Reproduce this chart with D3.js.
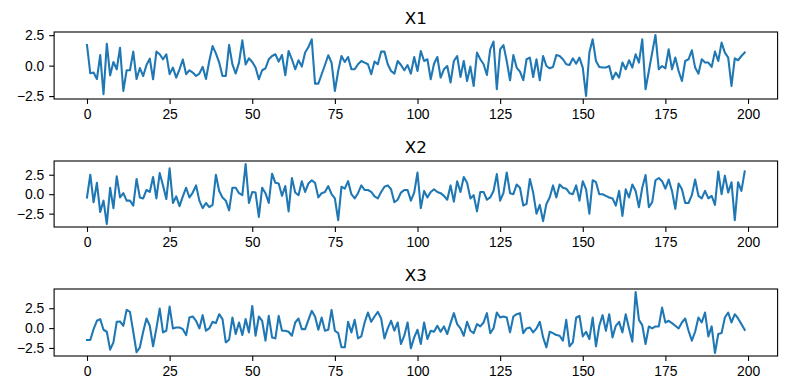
<!DOCTYPE html>
<html lang="en">
<head>
    <meta charset="UTF-8">
    <title>X1 / X2 / X3</title>
    <script src="https://d3js.org/d3.v7.min.js"></script>
    <style>
        body {
            margin: 0;
            background: #fff;
        }

        svg {
            display: block;
            font-family: 'DejaVu Sans', sans-serif;
        }

        .title {
            font-size: 16.7px;
            text-anchor: middle;
            fill: #000;
        }

        .tick text {
            font-size: 13.9px;
            fill: #000;
        }

        .tick line {
            stroke: #000;
            stroke-width: 1.1;
        }

        .frame {
            fill: none;
            stroke: #000;
            stroke-width: 1.1;
        }

        .series {
            fill: none;
            stroke: #1f77b4;
            stroke-width: 2.08;
            stroke-linejoin: round;
            stroke-linecap: square;
        }
    </style>
</head>
<body>
    <svg width="790" height="390"></svg>

    <script>
        const titles = ['X1', 'X2', 'X3'];
        const xTicks = [0, 25, 50, 75, 100, 125, 150, 175, 200];
        const yTicks = [-2.5, 0, 2.5];

        const x1 = [
            1.69, -0.63, -0.57, -1.1, 0.87, -2.35, 1.8, -0.8, 0.3, -0.3,
            1.47, -2.08, -0.38, -0.38, 1.15, -1.1, -0.2, -0.85, 0.05, 0.57,
            -1.12, 1.15, 0.93, 0.52, 0.93, -0.7, -0.16, -0.98, -0.3, 0.5,
            -0.7, -0.38, -0.57, -0.85, -0.65, -0.1, -1.1, 0.38, 1.6, 1.0,
            0.25, -0.85, -0.85, 1.7, 0.1, -0.65, 0.25, 2.08, 0.1, 0.6,
            0.3, -0.16, -1.12, -0.38, -0.22, 0.52, 0.79, 0.93, 0.33, 0.87,
            -0.79, 1.2, 0.52, -0.3, 0.44, -0.08, 1.07, 1.53, 2.16, -1.48,
            -1.48, -0.71, 0.05, 0.85, 0.25, -2.08, -0.44, 0.79, 0.3, 0.71,
            -0.3, -0.3, 0.11, 0.38, 0.25, 0.11, -0.71, 0.33, 0.11, 1.15,
            1.15, 0.11, -0.44, -0.66, 0.38, 0.05, -0.38, 0.05, -0.66, 0.71,
            -0.44, 1.2, 0.38, 0.52, -1.12, 0.16, 0.71, -0.98, -0.3, -0.03,
            -1.39, 0.38, 0.79, -0.93, 0.38, -1.26, -0.08, -1.67, 1.07, 0.52,
            0.11, -0.77, 1.34, 1.97, -1.94, 1.34, 1.69, 0.38, -1.2, 0.87,
            -0.16, -0.49, -1.2, 0.52, 0.66, -0.93, 0.52, -1.2, 0.79, -0.03,
            -0.22, -0.11, 0.87, 0.79, 0.52, 0.11, 0.05, 0.6, 0.16, 0.66,
            -0.16, -2.49, 1.07, 2.16, 0.38, -0.11, -0.16, -0.16, -0.03, -1.12,
            -0.57, -0.98, 0.25, -0.3, 0.44, -0.16, 0.93, 0.25, 2.16, -1.94,
            -0.44, 1.07, 2.51, -0.3, -0.03, -0.22, 1.34, -0.3, 0.66, -0.44,
            -1.26, 0.38, 0.52, 1.26, -0.16, -0.66, 0.52, 0.25, 0.25, -0.11,
            1.15, 0.38, 1.89, 1.07, 0.66, -1.67, 0.6, 0.44, 0.79, 1.07
        ];

        const x2 = [
            -0.42, 2.5, -1.04, 1.46, -2.29, -0.83, -3.83, 0.83, -1.79, 2.29,
            -0.42, 0.13, -0.83, -0.83, -1.46, 1.96, -0.42, -0.54, 0.54, 0.29,
            2.21, -0.54, 2.71, 1.13, -0.63, 3.33, -1.13, -0.29, -1.54, -0.29,
            0.83, -0.42, 0.21, 1.13, -0.83, -1.79, -1.13, -1.67, -1.38, 2.5,
            0.42, -0.42, -0.83, -2.08, 0.83, 0.83, 0.13, -0.13, 3.88, -1.13,
            0.29, 0.21, -2.92, 0.83, 0.13, -1.13, 2.63, 1.46, 1.38, -0.21,
            1.04, -2.21, 2.08, 0.21, -0.13, 1.67, 0.29, 1.38, 1.79, 1.46,
            -0.42, 0.13, 0.29, 1.04, 0, -0.54, -3.33, 0.96, 0.71, 1.67,
            0, -0.54, 0.13, 1.13, 0.54, 0.54, 0.29, -0.29, -0.54, 0.29,
            0.96, 1.13, 0.63, -1.04, -0.71, 0.21, 0.54, 0.54, -0.83, 0.21,
            2.79, -1.79, 0.42, -0.42, 0.29, 0.63, 0.29, 0.13, -0.21, -0.71,
            1.13, -0.96, 1.67, 0.29, 2.21, 1.46, -0.54, -0.13, -2.21, 0.29,
            0.29, -0.71, -0.42, 0.42, 2.58, -0.83, 0.13, 2.79, 0.13, 0,
            1.25, 0.83, -1.46, -1.25, 1.96, 0.21, -2.5, -1.38, -3.46, -1.25,
            -0.42, 1.13, -0.42, 1.25, 0.83, 0.71, 0.13, 0, 1.13, -0.83,
            1.67, 0.63, -2.5, 1.79, 1.54, 0, 0, -0.21, -0.42, -0.54,
            -1.46, 0.42, -2.79, 0.63, -0.42, 1.25, 0.42, -1.67, 0.83, 2.46,
            -1.67, -1.04, 1.79, 2.08, 1.67, 0.71, 1.88, 0.42, -1.88, 1.38,
            0.63, -1.13, -1.13, -0.13, 1.88, -0.21, -0.54, 0.42, -0.54, -0.21,
            -1.38, 2.92, 0, 2.38, 0.21, 1.54, -3.33, 1.54, 0.42, 2.92
        ];

        const x3 = [
            -1.5, -1.5, -0.13, 0.92, 1.13, -0.21, -0.46, -2.71, -1.79, 0.79,
            0.83, 0.29, 2.29, 2.04, -0.46, -3.04, -2.42, -0.46, 1.21, 0.29,
            -2.29, -0.04, 2.46, -0.54, -0.33, 2.71, -0.04, 0.08, 0.08, -0.13,
            -0.88, 1.33, 1.46, 0.92, -0.04, 1.63, -0.33, -0.04, 0.79, 0.63,
            1.75, 1.13, -1.79, -1.46, 1.33, -0.75, 0.71, -0.88, 1.13, -0.54,
            2.79, -0.96, 1.46, 0.92, -1.58, 1.54, -1.17, -1.29, 1.54, -0.33,
            -0.33, -0.46, -0.96, 0.71, 1.21, -0.13, -0.13, 1.04, 2.17, 1.46,
            -0.21, 1.33, -0.33, -0.21, 2.29, -0.33, -0.63, -2.42, -2.42, 0.79,
            -0.54, 1.04, -1.29, -1.04, 0.71, 1.96, 0.79, 1.46, 2.04, 1.21,
            -1.29, -0.04, 0.92, -0.33, 0.71, -2.0, -0.96, 0.71, -2.54, -1.17,
            -0.21, -2.0, 0.71, -1.38, -0.33, -0.46, 0.29, -0.46, 0.21, -0.75,
            0.63, 1.88, 0.5, -0.04, -0.96, 0.79, -0.33, -0.63, 0.5, 0.21,
            0.71, 1.88, -0.63, -0.04, 1.96, 1.33, 1.46, 1.33, -0.54, 1.46,
            1.75, 1.88, -0.63, -0.04, 0.08, -0.54, -0.04, 0.79, -1.17, -2.42,
            -0.46, -0.63, -0.88, -0.96, -1.58, 1.04, -2.29, -1.79, 1.3, 1.54,
            -1.04, -0.46, -1.38, 1.33, -2.29, 0.29, 1.63, -0.33, 1.75, -1.17,
            0.29, 0.79, -0.54, 1.75, -0.04, -1.71, 4.54, 1.04, 0.38, -2.0,
            0.21, -0.04, 0.21, 0.21, 2.58, 0.71, 0.92, 0.63, 0.29, -0.04,
            0.71, 1.21, -0.33, -1.58, -0.46, 1.33, 0.71, 1.96, -1.04, 0.21,
            -3.13, -0.75, -0.63, 1.33, 1.96, 0.71, 1.75, 1.21, 0.5, -0.21
        ];

        const seriesList = [x1, x2, x3];

        const svg = d3.select('svg');
        const left = 54.1, right = 777.6;
        const panels = [
            { top: 32, bottom: 99 },
            { top: 161, bottom: 227 },
            { top: 289, bottom: 356 }
        ];

        const minus = s => s.replace('-', '\u2212');

        // same x range for all three panels (matplotlib 5% margins)
        const x = d3.scaleLinear()
            .domain([-9.95, 208.95])
            .range([left, right]);

        seriesList.forEach((values, k) => {
            const p = panels[k];
            const lo = d3.min(values), hi = d3.max(values);
            const pad = (hi - lo) * 0.05;

            const y = d3.scaleLinear()
                .domain([lo - pad, hi + pad])
                .range([p.bottom, p.top]);

            const g = svg.append('g');

            // line
            g.append('path')
                .datum(values)
                .attr('class', 'series')
                .attr('d', d3.line()
                    .x((d, i) => x(i))
                    .y(d => y(d)));

            // frame
            g.append('rect')
                .attr('class', 'frame')
                .attr('x', left)
                .attr('y', p.top)
                .attr('width', right - left)
                .attr('height', p.bottom - p.top);

            // x axis
            g.append('g')
                .attr('transform', `translate(0,${p.bottom})`)
                .call(d3.axisBottom(x).tickValues(xTicks).tickSize(4.9).tickPadding(4.9).tickFormat(d3.format('d')))
                .call(a => a.select('.domain').remove());

            // y axis
            g.append('g')
                .attr('transform', `translate(${left},0)`)
                .call(d3.axisLeft(y).tickValues(yTicks).tickSize(4.9).tickPadding(4.9)
                    .tickFormat(d => minus(d3.format('.1f')(d))))
                .call(a => a.select('.domain').remove());

            // title
            g.append('text')
                .attr('class', 'title')
                .attr('x', (left + right) / 2)
                .attr('y', p.top - 8.3)
                .text(titles[k]);
        });

        svg.selectAll('.tick text').attr('font-family', null).attr('font-size', null);
    </script>
</body>
</html>
